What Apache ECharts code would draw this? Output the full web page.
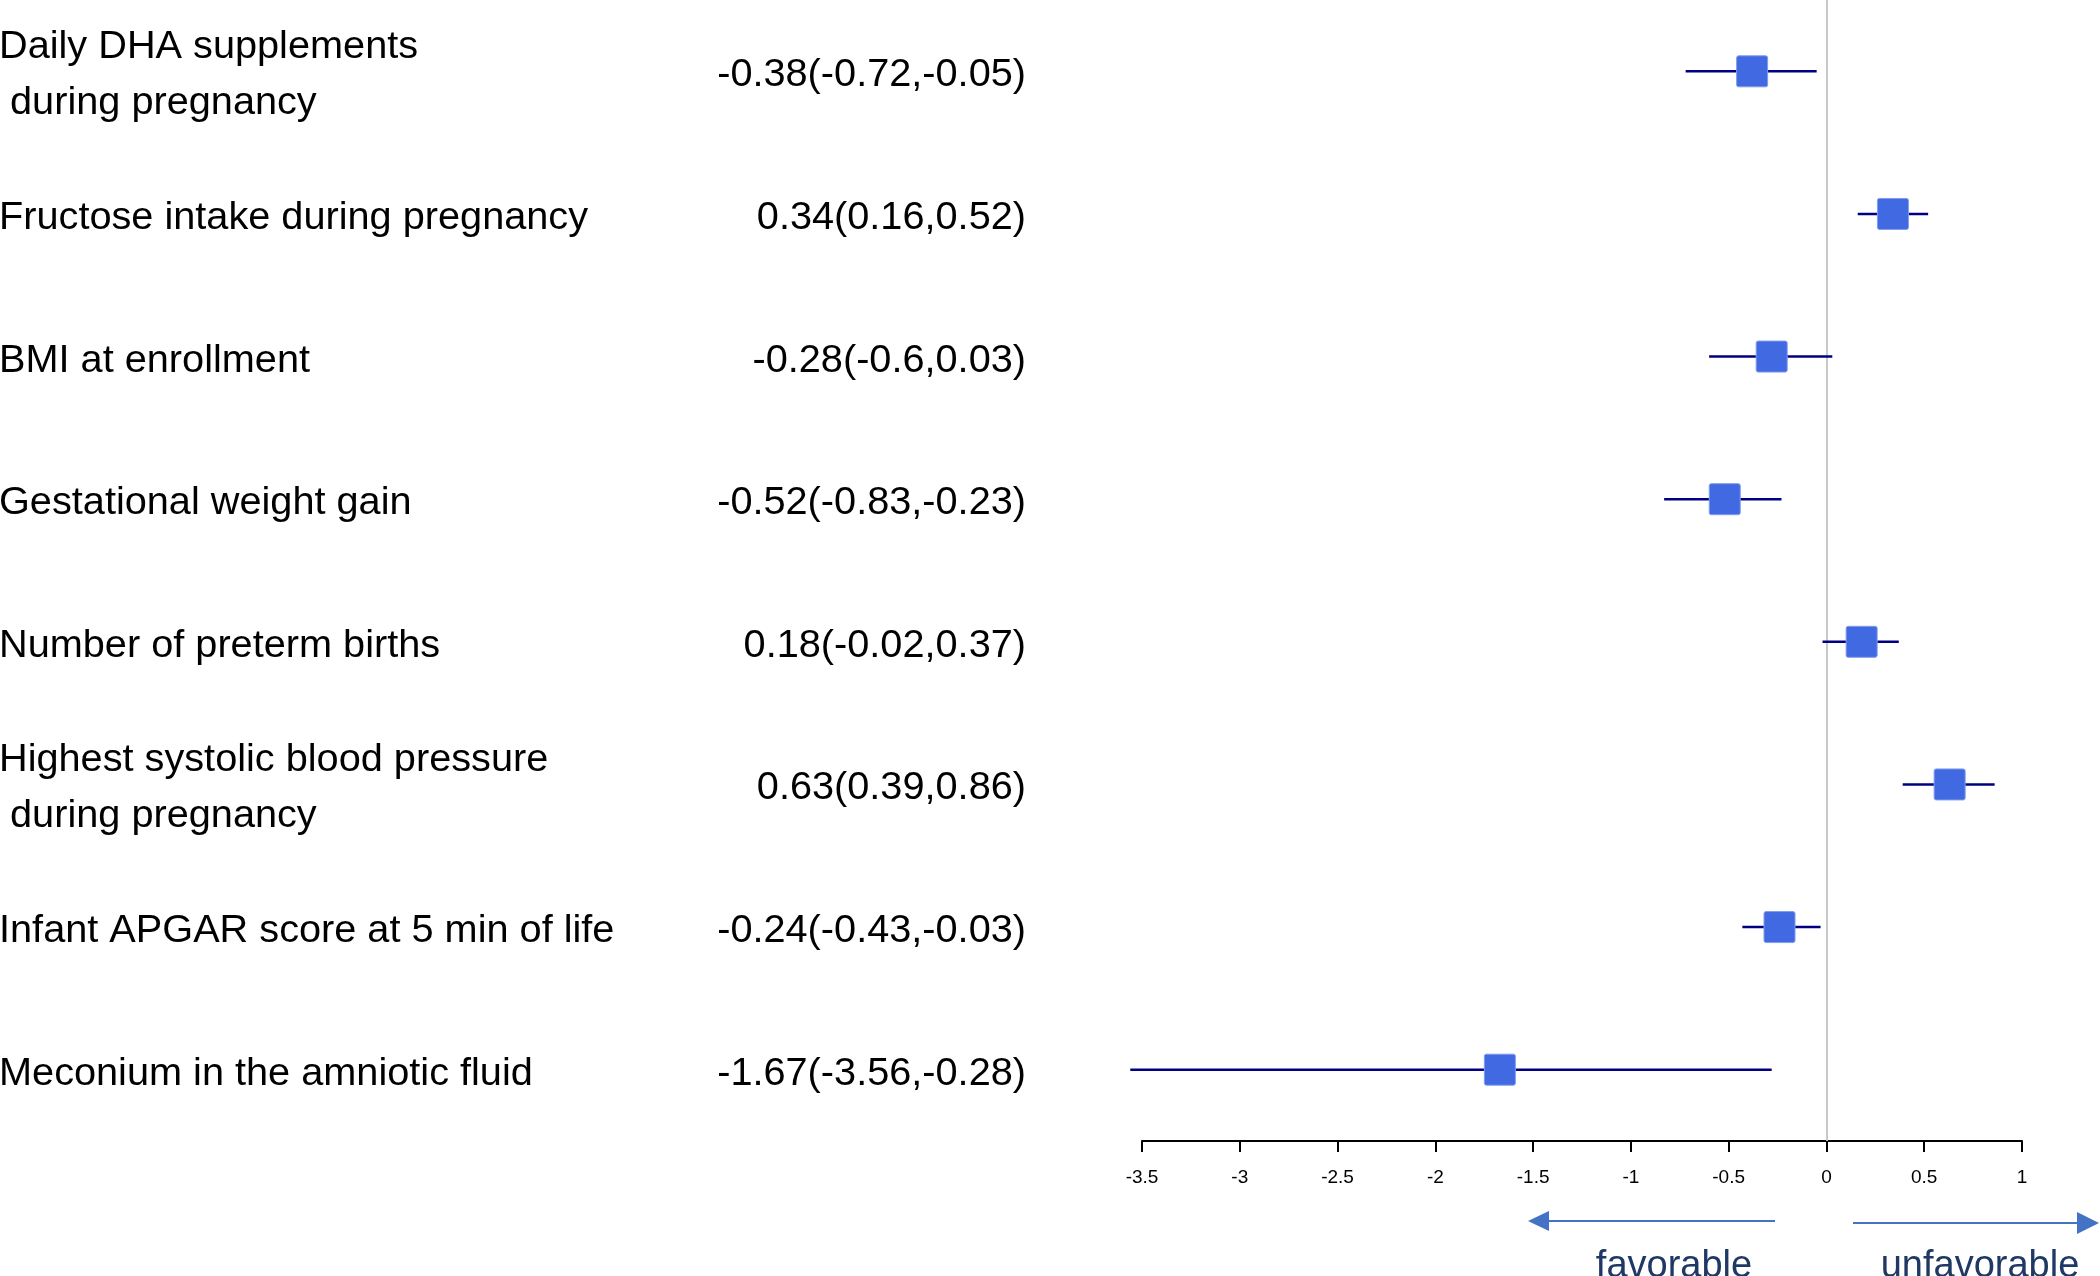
<!DOCTYPE html>
<html>
<head>
<meta charset="utf-8">
<script src="https://cdn.jsdelivr.net/npm/echarts@6/dist/echarts.min.js"></script>
<style>
html,body{margin:0;padding:0;background:#fff;}
#chart{width:2100px;height:1276px;}
</style>
</head>
<body>
<div id="chart"></div>
<script>
// ---- data ----
const categories = [
  "Daily DHA supplements\n during pregnancy",
  "Fructose intake during pregnancy",
  "BMI at enrollment",
  "Gestational weight gain",
  "Number of preterm births",
  "Highest systolic blood pressure\n during pregnancy",
  "Infant APGAR score at 5 min of life",
  "Meconium in the amniotic fluid"
];
const estimates = [-0.38, 0.34, -0.28, -0.52, 0.18, 0.63, -0.24, -1.67];
const lower     = [-0.72, 0.16, -0.6, -0.83, -0.02, 0.39, -0.43, -3.56];
const upper     = [-0.05, 0.52, 0.03, -0.23, 0.37, 0.86, -0.03, -0.28];
const xTicks    = [-3.5, -3, -2.5, -2, -1.5, -1, -0.5, 0, 0.5, 1];
const directionLabels = ["favorable", "unfavorable"];

const FONT = "'Liberation Sans', Arial, sans-serif";
const valueLabels = estimates.map((e, i) => e + "(" + lower[i] + "," + upper[i] + ")");
const seriesData = estimates.map((e, i) => ({ value: [e, i, lower[i], upper[i]] }));

const chart = echarts.init(document.getElementById('chart'), null, { renderer: 'canvas' });

const GRID_LEFT = 1142, GRID_RIGHT = 78;

const option = {
  backgroundColor: '#ffffff',
  animation: false,
  grid: [
    { left: GRID_LEFT, right: GRID_RIGHT, top: 0, bottom: 135, containLabel: false, outerBoundsMode: 'none' },
    { left: GRID_LEFT, right: GRID_RIGHT, top: 4, bottom: 131, containLabel: false, outerBoundsMode: 'none' }
  ],
  xAxis: [
    {
      type: 'value',
      gridIndex: 0,
      min: xTicks[0],
      max: xTicks[xTicks.length - 1],
      interval: 0.5,
      axisLine: { show: true, lineStyle: { color: '#000', width: 2 } },
      axisTick: { show: true, length: 11, lineStyle: { color: '#000', width: 2 } },
      axisLabel: { fontSize: 19, color: '#000', fontFamily: FONT, margin: 27 },
      splitLine: { show: false }
    },
    {
      type: 'value',
      gridIndex: 1,
      show: false,
      min: xTicks[0],
      max: xTicks[xTicks.length - 1]
    }
  ],
  yAxis: [
    {
      type: 'category',
      gridIndex: 0,
      data: categories,
      inverse: true,
      show: false
    },
    {
      type: 'category',
      gridIndex: 1,
      data: categories,
      inverse: true,
      position: 'left',
      axisLine: { show: false },
      axisTick: { show: false },
      splitLine: { show: false },
      axisLabel: {
        align: 'left',
        margin: GRID_LEFT + 1,
        fontSize: 39.7,
        lineHeight: 56,
        color: '#000',
        fontFamily: FONT,
        interval: 0
      }
    },
    {
      type: 'category',
      gridIndex: 1,
      data: valueLabels,
      inverse: true,
      position: 'left',
      axisLine: { show: false },
      axisTick: { show: false },
      splitLine: { show: false },
      axisLabel: {
        align: 'right',
        margin: 116,
        fontSize: 39.7,
        color: '#000',
        fontFamily: FONT,
        interval: 0
      }
    }
  ],
  series: [
    {
      type: 'custom',
      xAxisIndex: 0,
      yAxisIndex: 0,
      data: seriesData,
      encode: { x: [0, 2, 3], y: 1 },
      z: 5,
      renderItem: function (params, api) {
        const est = api.value(0), idx = api.value(1), lo = api.value(2), hi = api.value(3);
        const pLo = api.coord([lo, idx]);
        const pHi = api.coord([hi, idx]);
        const pE = api.coord([est, idx]);
        const s = 31;
        return {
          type: 'group',
          children: [
            {
              type: 'line',
              shape: { x1: pLo[0], y1: pLo[1], x2: pHi[0], y2: pHi[1] },
              style: { stroke: '#000080', lineWidth: 2.6 }
            },
            {
              type: 'rect',
              shape: { x: pE[0] - s / 2, y: pE[1] - s / 2, width: s, height: s, r: 2 },
              style: { fill: '#4169E1', stroke: '#7f9cf0', lineWidth: 1 }
            }
          ]
        };
      },
      markLine: {
        silent: true,
        symbol: ['none', 'none'],
        label: { show: false },
        lineStyle: { color: '#c8c8c8', width: 2, type: 'solid' },
        data: [{ xAxis: 0 }],
        z: 1
      }
    }
  ],
  graphic: [
    // left arrow (favorable)
    { type: 'line', shape: { x1: 1775, y1: 1221, x2: 1545, y2: 1221 }, style: { stroke: '#4472C4', lineWidth: 2 } },
    { type: 'polygon', shape: { points: [[1528, 1221], [1549, 1211], [1549, 1231]] }, style: { fill: '#4472C4' } },
    // right arrow (unfavorable)
    { type: 'line', shape: { x1: 1853, y1: 1223, x2: 2080, y2: 1223 }, style: { stroke: '#4472C4', lineWidth: 2 } },
    { type: 'polygon', shape: { points: [[2099, 1223], [2077, 1212], [2077, 1234]] }, style: { fill: '#4472C4' } },
    { type: 'text', x: 1674, y: 1286, style: { text: directionLabels[0], font: '38px ' + FONT, fill: '#1F3864', textAlign: 'center', textVerticalAlign: 'bottom' } },
    { type: 'text', x: 1980, y: 1286, style: { text: directionLabels[1], font: '38px ' + FONT, fill: '#1F3864', textAlign: 'center', textVerticalAlign: 'bottom' } }
  ]
};
chart.setOption(option);
</script>
</body>
</html>
